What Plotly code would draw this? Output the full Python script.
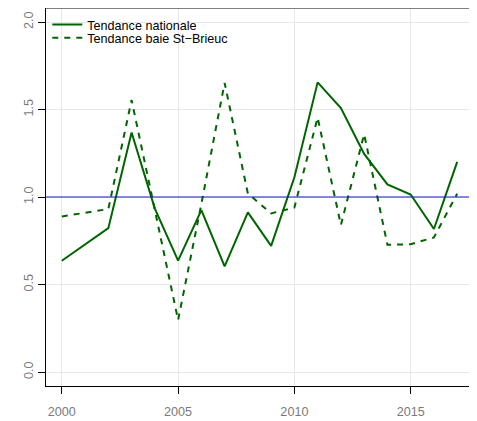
import plotly.graph_objects as go

years = [2000, 2002, 2003, 2004, 2005, 2006, 2007, 2008, 2009, 2010,
         2011, 2012, 2013, 2014, 2015, 2016, 2017]
nationale = [0.636, 0.822, 1.369, 0.934, 0.636, 0.925, 0.604, 0.912, 0.721, 1.113,
             1.655, 1.508, 1.246, 1.072, 1.014, 0.817, 1.201]
st_brieuc = [0.889, 0.931, 1.554, 0.93, 0.297, 0.96, 1.652, 1.02, 0.906, 0.94,
             1.454, 0.840, 1.359, 0.727, 0.730, 0.769, 1.019]
x_ticks = [2000, 2005, 2010, 2015]
y_ticks = [0.0, 0.5, 1.0, 1.5, 2.0]
y_tick_labels = ["0.0", "0.5", "1.0", "1.5", "2.0"]
reference_level = 1.0

GREEN = "#006400"
FONT = "Liberation Sans, Arial, sans-serif"
TICKFONT = dict(family=FONT, size=12.6, color="#7a7a7a")
LEGFONT = dict(family=FONT, size=12.6, color="black")

fig = go.Figure()
fig.add_trace(go.Scatter(x=years, y=nationale, mode="lines", name="Tendance nationale",
                         line=dict(color=GREEN, width=2), legend="legend"))
fig.add_trace(go.Scatter(x=years, y=st_brieuc, mode="lines", name="Tendance baie St\u2212Brieuc",
                         line=dict(color=GREEN, width=2, dash="6px,6px"), legend="legend2"))

fig.add_hline(y=reference_level, line=dict(color="#1515d5", width=1.2), layer="above")

# gray top edge of the box
fig.add_shape(type="line", xref="paper", yref="paper", x0=0, x1=1, y0=1, y1=1,
              line=dict(color="#808080", width=2), layer="above")

fig.update_layout(
    width=477, height=421,
    margin=dict(l=38, r=12, t=0, b=43),
    plot_bgcolor="white", paper_bgcolor="white",
    font=dict(family=FONT, size=12.6, color="#7a7a7a"),
    showlegend=True,
    legend=dict(x=0.003, y=0.995, xanchor="left", yanchor="top",
                bgcolor="rgba(0,0,0,0)", borderwidth=0, font=LEGFONT),
    legend2=dict(x=0.003, y=0.96, xanchor="left", yanchor="top",
                 bgcolor="rgba(0,0,0,0)", borderwidth=0, font=LEGFONT),
    xaxis=dict(range=[1999.32, 2017.68], tickvals=x_ticks, ticks="outside", ticklen=7,
               tickcolor="black", tickwidth=1, showgrid=True, gridcolor="#e8e8e8",
               gridwidth=1, zeroline=False, showline=True, mirror=True, linecolor="black",
               linewidth=1.4, ticklabelstandoff=7, tickfont=TICKFONT),
    yaxis=dict(range=[-0.08, 2.08], tickvals=y_ticks, ticktext=y_tick_labels,
               ticks="outside", ticklen=7, tickcolor="black", tickwidth=1,
               tickangle=-90, showgrid=True, gridcolor="#e8e8e8", gridwidth=1,
               zeroline=False, showline=True, mirror=True, linecolor="black",
               linewidth=1.4, tickfont=TICKFONT),
)

fig.write_html("out.html", config={"displayModeBar": False})
